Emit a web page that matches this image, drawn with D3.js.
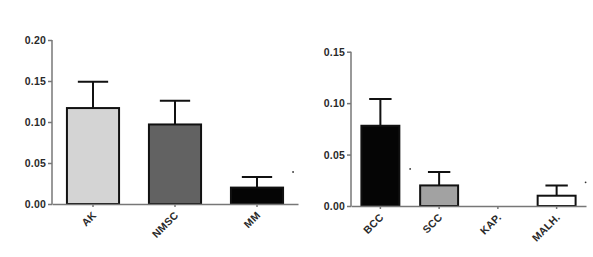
<!DOCTYPE html>
<html>
<head>
<meta charset="utf-8">
<script src="https://cdn.jsdelivr.net/npm/d3@7"></script>
<style>
  body { margin: 0; background: #fff; }
  text { font-family: "Liberation Sans", Arial, sans-serif; font-weight: bold; fill: #2a2a2a; }
  .axis path, .axis line { stroke: #777; stroke-width: 1.5; }
</style>
</head>
<body>
<script>
// left panel
const leftCats = ["AK", "NMSC", "MM"];
const leftMeans = [0.117, 0.097, 0.020];
const leftErr = [0.032, 0.029, 0.013];
const leftFill = ["#d4d4d4", "#626262", "#050505"];
const leftTicks = [0, 0.05, 0.10, 0.15, 0.20];
const leftMarks = [{cat: "MM", side: 1, v: 0.039}];

// right panel
const rightCats = ["BCC", "SCC", "KAP.", "MALH."];
const rightMeans = [0.078, 0.020, 0, 0.010];
const rightErr = [0.026, 0.013, 0, 0.010];
const rightFill = ["#050505", "#a2a2a2", "#ffffff", "#ffffff"];
const rightTicks = [0, 0.05, 0.10, 0.15];
const rightMarks = [{cat: "SCC", side: -1, v: 0.036}, {cat: "MALH.", side: 1, v: 0.023}];

const WIDTH = 593, HEIGHT = 257;

const svg = d3.select("body").append("svg")
    .attr("width", WIDTH)
    .attr("height", HEIGHT);

var drawPanel = function(cfg) {
  var x = d3.scaleBand()
      .domain(cfg.cats)
      .range([cfg.x0, cfg.x1])
      .paddingInner(cfg.pad)
      .paddingOuter(cfg.pad / 2);

  var y = d3.scaleLinear()
      .domain([0, cfg.max])
      .range([cfg.y0, cfg.y1]);

  var g = svg.append("g");

  // y axis
  var ya = g.append("g")
      .attr("class", "axis")
      .attr("transform", "translate(" + cfg.x0 + ",0)")
      .call(d3.axisLeft(y).tickValues(cfg.ticks).tickFormat(d3.format(".2f")).tickSize(4).tickSizeOuter(0));
  ya.selectAll("text").attr("font-size", 10.5).attr("letter-spacing", 0.2).attr("x", -6).attr("dy", "0.34em");
  ya.select(".domain").attr("d", "M0," + (cfg.y0 + 0.5) + "V" + cfg.y1);

  // bars
  var data = cfg.cats.map(function(c, i) {
    return {cat: c, v: cfg.means[i], e: cfg.err[i], fill: cfg.fill[i]};
  });
  var bw = x.bandwidth();
  var bars = data.filter(function(d) { return d.v > 0; });

  g.selectAll(".err").data(bars).enter().append("path")
      .attr("class", "err")
      .attr("fill", "none")
      .attr("stroke", "#111")
      .attr("stroke-width", 2)
      .attr("d", function(d) {
        var cx = x(d.cat) + bw / 2, cap = bw * 0.28;
        return "M" + cx + "," + y(d.v) + "V" + y(d.v + d.e) +
               "M" + (cx - cap) + "," + y(d.v + d.e) + "H" + (cx + cap);
      });

  g.selectAll(".bar").data(bars).enter().append("rect")
      .attr("class", "bar")
      .attr("x", function(d) { return x(d.cat) + 1; })
      .attr("y", function(d) { return y(d.v); })
      .attr("width", bw - 2)
      .attr("height", function(d) { return y(0) - y(d.v); })
      .attr("fill", function(d) { return d.fill; })
      .attr("stroke", "#111")
      .attr("stroke-width", 2);

  // x axis
  var xa = g.append("g")
      .attr("class", "axis")
      .attr("transform", "translate(0," + cfg.y0 + ")")
      .call(d3.axisBottom(x).tickSize(3).tickSizeOuter(0));
  xa.selectAll("text")
      .attr("font-size", 10.5)
      .attr("letter-spacing", 0.2)
      .attr("text-anchor", "end")
      .attr("x", 0).attr("y", 0).attr("dy", 0)
      .attr("transform", "translate(4,12) rotate(-45)");

  // small markers
  g.selectAll(".mark").data(cfg.marks).enter().append("circle")
      .attr("class", "mark")
      .attr("cx", function(d) { return x(d.cat) + bw / 2 + d.side * (bw / 2 + 9); })
      .attr("cy", function(d) { return y(d.v); })
      .attr("r", 0.9)
      .attr("fill", "#333");
};

drawPanel({cats: leftCats, means: leftMeans, err: leftErr, fill: leftFill, ticks: leftTicks,
           marks: leftMarks, max: 0.20, x0: 52, x1: 298, y0: 204, y1: 40, pad: 0.34});
drawPanel({cats: rightCats, means: rightMeans, err: rightErr, fill: rightFill, ticks: rightTicks,
           marks: rightMarks, max: 0.15, x0: 351, x1: 586, y0: 206, y1: 51.7, pad: 0.32});
</script>
</body>
</html>
